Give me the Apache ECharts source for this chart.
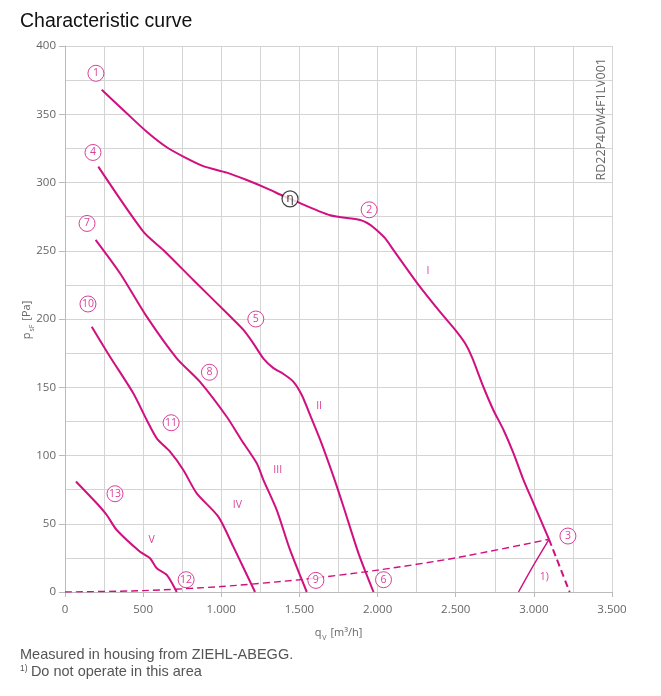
<!DOCTYPE html>
<html>
<head>
<meta charset="utf-8">
<script src="https://cdn.jsdelivr.net/npm/echarts@6/dist/echarts.min.js"></script>
<style>
  html, body { margin: 0; padding: 0; background: #fff; }
  #chart { width: 661px; height: 696px; }
</style>
</head>
<body>
<div id="chart"></div>
<script>
// werte (qV in m3/h, psF in Pa)
var curveI = [[235,368],[395,350.7],[523,337.2],[651,325.8],[757,319],[885,312],[1035,307.2],[1163,301.8],[1291,295.7],[1398,290],[1440,288],[1697,276],[1888,272.5],[1953,269],[1995,265],[2049,259],[2102,250.5],[2262,225],[2401,205],[2497,192],[2561,182],[2604,172],[2678,150],[2742,133],[2806,118.7],[2870,101.6],[2934,82],[2998,65],[3097,38.6]];
var curveIdash = [[3097,38.6],[3229,0]];
var curveII = [[213,311.6],[501,264],[629,250.5],[821,228.6],[1056,202],[1142,192],[1206,182],[1270,171],[1334,164],[1398,159.7],[1462,154],[1515,144.3],[1568,129.7],[1633,111.4],[1718,84.5],[1782,62.5],[1878,28.3],[1974,0]];
var curveIII = [[196,258],[352,233.5],[523,201.7],[715,171.2],[864,154],[1035,128.4],[1131,111],[1227,94.3],[1270,82],[1355,60],[1440,30.8],[1547,0]];
var curveIV = [[171,194.4],[288,172.4],[437,145.6],[523,126],[587,112.6],[672,102.8],[757,89.4],[843,72.3],[981,55.2],[1077,33.2],[1216,0]];
var curveV = [[70,81],[203,65],[267,56.4],[331,45.4],[480,29.5],[544,24.7],[587,17.4],[651,12.5],[715,0]];
var systemLine = [[0,0],[500,1],[1000,4],[1500,9],[2000,16],[2500,25],[3097,38.6]];
var limitLine = [[2902,0],[3000,20],[3097,38.6]];

// kreise mit nummern
var pointLabels = [[198,380,'1'],[1946,280,'2'],[3218,41,'3'],[179,322,'4'],[1221,200,'5'],[2038,9,'6'],[141,270,'7'],[924,161,'8'],[1605,8.5,'9'],[147,211,'10'],[679,124,'11'],[775,9,'12'],[320,72,'13']];
var romanLabels = [[2322,235,'I'],[1626,136,'II'],[1361,89,'III'],[1103,64,'IV'],[555,38,'V'],[3067,11,'1)']];
var etaPoint = [[1440,288,'η']];

var xTicks = [0,500,1000,1500,2000,2500,3000,3500];
var yTicks = [0,50,100,150,200,250,300,350,400];

var pink = '#d1107f';
var grey = '#666';

function fmt(v) {
    return String(v).replace(/\B(?=(\d{3})+(?!\d))/g, '.');
}

function curve(data, dashed, width) {
    return {
        type: 'line',
        data: data,
        smooth: 0.25,
        symbol: 'none',
        silent: true,
        lineStyle: { color: pink, width: width || 2, type: dashed ? [7, 4] : 'solid' },
        z: 3
    };
}

var nameRich = {
    n: { fontFamily: 'Open Sans', fontSize: 11, color: grey, lineHeight: 16 },
    s: { fontFamily: 'Open Sans', fontSize: 7, color: grey, lineHeight: 16, verticalAlign: 'bottom', padding: [6, 1, 0, 1] }
};
// gleiche Schrift fuer graphic (dort fill statt color)
var nameRichG = {
    n: { font: '11px "Open Sans"', fill: grey, lineHeight: 16 },
    s: { font: '7px "Open Sans"', fill: grey, lineHeight: 16, verticalAlign: 'bottom', padding: [6, 1, 0, 1] }
};

var chart = echarts.init(document.getElementById('chart'), null, { renderer: 'canvas' });

var option = {
    animation: false,
    backgroundColor: '#fff',
    grid: { left: 65, right: 49, top: 46, bottom: 104 },
    xAxis: {
        type: 'value',
        min: xTicks[0], max: xTicks[xTicks.length - 1], interval: 500,
        name: '{n|q}{s|V}{n| [m³/h]}',
        nameLocation: 'middle', nameGap: 33,
        nameTextStyle: { rich: nameRich },
        axisLine: { show: true, lineStyle: { color: '#bbb' } },
        axisTick: { show: true, length: 5, lineStyle: { color: '#bbb' } },
        axisLabel: { fontFamily: 'Open Sans', fontSize: 11.5, color: grey, margin: 12, formatter: fmt },
        splitLine: { show: true, lineStyle: { color: '#d4d4d4' } },
        minorTick: { show: false, splitNumber: 2 },
        minorSplitLine: { show: true, lineStyle: { color: '#d4d4d4' } }
    },
    yAxis: {
        type: 'value',
        min: yTicks[0], max: yTicks[yTicks.length - 1], interval: 50,
        axisLine: { show: true, lineStyle: { color: '#bbb' } },
        axisTick: { show: true, length: 6, lineStyle: { color: '#bbb' } },
        axisLabel: { fontFamily: 'Open Sans', fontSize: 11.5, color: grey, margin: 9 },
        splitLine: { show: true, lineStyle: { color: '#d4d4d4' } },
        minorTick: { show: false, splitNumber: 2 },
        minorSplitLine: { show: true, lineStyle: { color: '#d4d4d4' } }
    },
    series: [
        curve(curveI),
        curve(curveIdash, true),
        curve(curveII),
        curve(curveIII),
        curve(curveIV),
        curve(curveV),
        curve(systemLine, true, 1.4),
        curve(limitLine, false, 1.4),
        {
            type: 'scatter',
            data: pointLabels,
            symbol: 'circle',
            symbolSize: 16,
            silent: true,
            itemStyle: { color: '#fff', borderColor: pink, borderWidth: 1 },
            label: {
                show: true, position: 'inside', color: pink,
                fontFamily: 'Open Sans', fontSize: 10.5,
                formatter: function (p) { return p.data[2]; }
            },
            z: 5
        },
        {
            type: 'scatter',
            data: etaPoint,
            symbol: 'circle',
            symbolSize: 16,
            silent: true,
            itemStyle: { color: '#fff', borderColor: '#111', borderWidth: 1.2 },
            label: {
                show: true, position: 'inside', color: '#111',
                fontFamily: 'DejaVu Sans', fontSize: 12,
                formatter: function (p) { return p.data[2]; }
            },
            z: 6
        },
        {
            type: 'scatter',
            data: romanLabels,
            symbolSize: 0,
            silent: true,
            label: {
                show: true, position: 'inside', color: pink,
                fontFamily: 'Open Sans', fontSize: 10.5,
                formatter: function (p) { return p.data[2]; }
            },
            z: 5
        }
    ],
    graphic: [
        {
            type: 'text', left: 20, top: 12,
            style: { text: 'Characteristic curve', font: '19.5px "Liberation Sans"', fill: '#111' }
        },
        {
            // Achsenname y
            type: 'text', x: 27, y: 320, rotation: Math.PI / 2,
            style: { text: '{n|p}{s|sF}{n| [Pa]}', rich: nameRichG, align: 'center', verticalAlign: 'middle' }
        },
        {
            type: 'text', x: 601, y: 58, rotation: Math.PI / 2,
            style: { text: 'RD22P4DW4F1LV001', font: '12.5px "Open Sans"', fill: grey, align: 'right', verticalAlign: 'middle' }
        },
        {
            type: 'text', left: 20, top: 647,
            style: { text: 'Measured in housing from ZIEHL-ABEGG.', font: '14.5px "Liberation Sans"', fill: '#555' }
        },
        {
            type: 'text', left: 20, top: 664,
            style: {
                text: '{sup|1)} {t|Do not operate in this area}',
                rich: {
                    sup: { font: '8.5px "Liberation Sans"', fill: '#555', verticalAlign: 'top' },
                    t: { font: '14.5px "Liberation Sans"', fill: '#555' }
                }
            }
        }
    ]
};

chart.setOption(option);
</script>
</body>
</html>
